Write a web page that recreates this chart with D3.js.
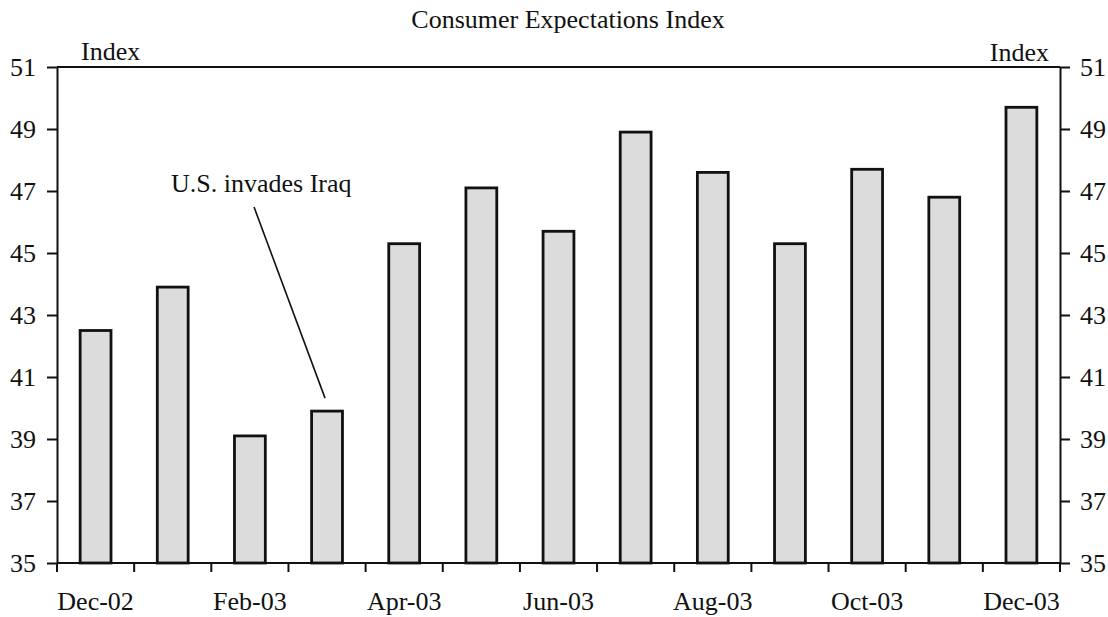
<!DOCTYPE html>
<html>
<head>
<meta charset="utf-8">
<script src="https://cdn.jsdelivr.net/npm/d3@7"></script>
<style>
  html, body { margin: 0; padding: 0; background: #fff; }
  svg { display: block; }
  text { font-family: "Liberation Serif", "Times New Roman", serif; fill: #111; }
</style>
</head>
<body>
<svg id="chart" width="1108" height="617"></svg>
<script>
const months = ["Dec-02","Jan-03","Feb-03","Mar-03","Apr-03","May-03","Jun-03","Jul-03","Aug-03","Sep-03","Oct-03","Nov-03","Dec-03"];
const values = [42.5, 43.9, 39.1, 39.9, 45.3, 47.1, 45.7, 48.9, 47.6, 45.3, 47.7, 46.8, 49.7];
const yTicks = [35, 37, 39, 41, 43, 45, 47, 49, 51];
const xLabels = ["Dec-02","Feb-03","Apr-03","Jun-03","Aug-03","Oct-03","Dec-03"];
const title = "Consumer Expectations Index";
const axisTitle = "Index";
const annotationText = "U.S. invades Iraq";
const annotationMonth = "Mar-03";

const svg = d3.select("#chart");
const L = 57, R = 1060, T = 67, B = 563;
const FS = 26;

const x = d3.scaleBand().domain(months).range([L, R]).paddingInner(0).paddingOuter(0);
const y = d3.scaleLinear().domain([35, 51]).range([B, T]);
const barW = x.bandwidth() * 0.4;

// title
svg.append("text").attr("x", 568).attr("y", 28).attr("text-anchor", "middle")
  .style("font-size", FS + "px").text(title);

// bars
svg.append("g").selectAll("rect").data(values).join("rect")
  .attr("x", (d, i) => x(months[i]) + x.bandwidth() / 2 - barW / 2)
  .attr("y", d => y(d))
  .attr("width", barW)
  .attr("height", d => B - y(d))
  .attr("fill", "#dcdcdc")
  .attr("stroke", "#111")
  .attr("stroke-width", 2.8);

// left axis
const gl = svg.append("g").attr("transform", `translate(${L},0)`)
  .call(d3.axisLeft(y).tickValues(yTicks).tickSize(10).tickPadding(11).tickSizeOuter(0));
// right axis
const gr = svg.append("g").attr("transform", `translate(${R},0)`)
  .call(d3.axisRight(y).tickValues(yTicks).tickSize(10).tickPadding(10).tickSizeOuter(0));
[gl, gr].forEach(g => {
  g.select(".domain").attr("stroke", "#111").attr("stroke-width", 2);
  g.selectAll(".tick line").attr("stroke", "#111").attr("stroke-width", 2);
  g.selectAll(".tick text").style("font-size", FS + "px").attr("fill", "#111")
    .style("font-family", '"Liberation Serif", "Times New Roman", serif');
});

// top border and bottom axis line
svg.append("line").attr("x1", L).attr("x2", R).attr("y1", y(51)).attr("y2", y(51))
  .attr("stroke", "#111").attr("stroke-width", 2);
svg.append("line").attr("x1", L).attr("x2", R).attr("y1", y(35)).attr("y2", y(35))
  .attr("stroke", "#111").attr("stroke-width", 2);

// bottom tick marks at band boundaries
const boundaries = months.map(m => x(m)).concat([x(months[months.length - 1]) + x.step()]);
svg.append("g").selectAll("line").data(boundaries).join("line")
  .attr("x1", d => d).attr("x2", d => d).attr("y1", B).attr("y2", B + 9)
  .attr("stroke", "#111").attr("stroke-width", 2);

// bottom labels
const gb = svg.append("g").attr("transform", `translate(0,${B})`)
  .call(d3.axisBottom(x).tickValues(xLabels).tickSize(0).tickPadding(29));
gb.select(".domain").remove();
gb.selectAll(".tick text").style("font-size", FS + "px").attr("fill", "#111")
  .style("font-family", '"Liberation Serif", "Times New Roman", serif');

// axis titles
svg.append("text").attr("x", 81).attr("y", 60).style("font-size", FS + "px").text(axisTitle);
svg.append("text").attr("x", 1049).attr("y", 61).attr("text-anchor", "end").style("font-size", FS + "px").text(axisTitle);

// annotation
const ai = months.indexOf(annotationMonth);
const ax = x(annotationMonth) + x.bandwidth() / 2 - 2;
const ay = y(values[ai]) - 13;
svg.append("line").attr("x1", ax - 71).attr("y1", 207).attr("x2", ax).attr("y2", ay)
  .attr("stroke", "#111").attr("stroke-width", 1.6);
svg.append("text").attr("x", 171).attr("y", 192).style("font-size", FS + "px").text(annotationText);
</script>
</body>
</html>
